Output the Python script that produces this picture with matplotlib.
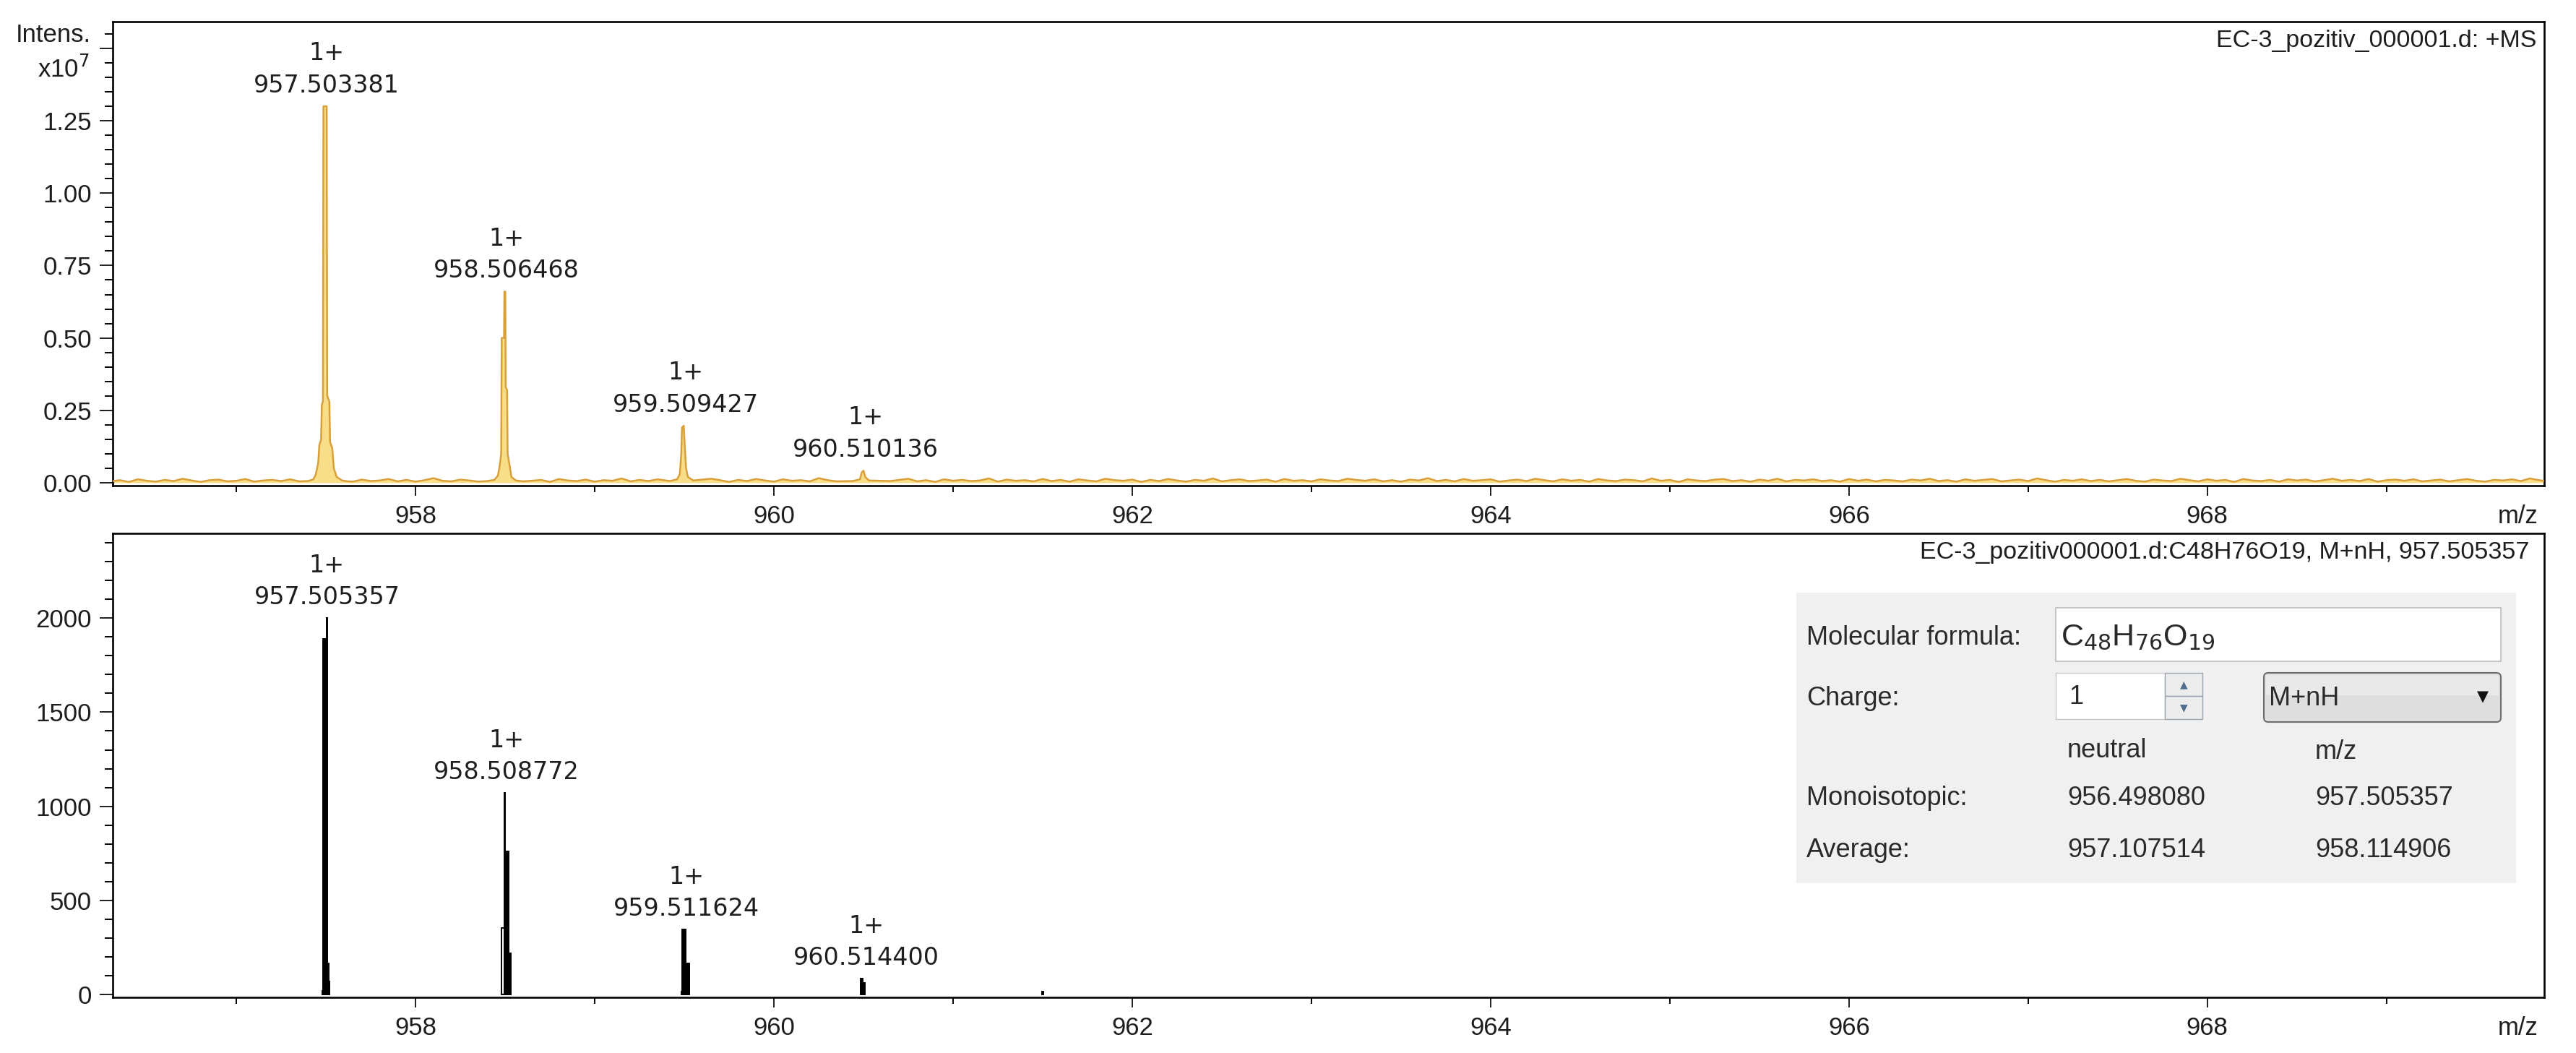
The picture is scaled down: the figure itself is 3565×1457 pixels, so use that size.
import numpy as np
import matplotlib
matplotlib.use("Agg")
import matplotlib.pyplot as plt
from matplotlib.patches import Rectangle, FancyBboxPatch
from matplotlib.ticker import MultipleLocator, FuncFormatter
from matplotlib.transforms import Affine2D

# ---------------- data ----------------
# Top panel: measured spectrum (+MS), intensity in units of 1e7
noise_start = 956.3
noise_step = 0.05
noise_int_e3 = [5, 9, 3, 12, 7, 4, 10, 6, 14, 8, 3, 9, 11, 5, 7, 13, 4, 8, 10, 6,
                12, 5, 8, 3, 15, 7, 9, 4, 11, 6, 8, 13, 5, 10, 4, 9, 16, 7, 5, 11,
                8, 4, 12, 6, 9, 14, 5, 7, 10, 3, 13, 8, 6, 11, 4, 9, 7, 15, 5, 10,
                6, 12, 4, 8, 11, 7, 5, 14, 9, 3, 10, 6, 13, 8, 4, 12, 7, 9, 5, 16,
                9, 5, 11, 7, 4, 13, 8, 6, 10, 14, 5, 9, 3, 12, 7, 10, 6, 8, 15, 4,
                11, 7, 9, 5, 13, 6, 10, 4, 12, 8, 5, 14, 9, 7, 11, 3, 10, 6, 13, 8,
                4, 10, 7, 15, 5, 9, 12, 6, 8, 11, 4, 13, 7, 9, 5, 12, 8, 6, 14, 10,
                7, 12, 5, 9, 4, 11, 8, 16, 6, 10, 5, 13, 7, 9, 12, 4, 8, 11, 6, 14,
                9, 5, 12, 7, 10, 4, 13, 8, 6, 11, 9, 5, 15, 7, 10, 3, 12, 8, 6, 11,
                13, 6, 9, 4, 11, 7, 14, 5, 10, 8, 12, 6, 9, 4, 13, 7, 11, 5, 10, 8,
                5, 11, 8, 14, 6, 9, 4, 12, 7, 10, 13, 5, 8, 11, 6, 15, 9, 4, 10, 7,
                12, 6, 10, 5, 9, 13, 7, 4, 11, 8, 6, 14, 9, 5, 12, 7, 10, 3, 13, 8,
                6, 10, 4, 12, 8, 11, 5, 9, 14, 7, 10, 6, 13, 4, 9, 11, 7, 12, 5, 8,
                11, 5, 9, 13, 7, 4, 10, 8, 12, 6, 15, 9, 5, 11, 7, 10, 4, 13, 8, 6]

top_peak_mz = [957.40, 957.43, 957.444, 957.457, 957.463, 957.473, 957.477, 957.483,
               957.486, 957.504, 957.507, 957.519, 957.523, 957.535, 957.544, 957.56,
               957.59, 957.62,
               958.40, 958.44, 958.46, 958.47, 958.478, 958.481, 958.494, 958.496,
               958.501, 958.503, 958.511, 958.514, 958.525, 958.535, 958.56, 958.60,
               959.42, 959.46, 959.475, 959.483, 959.487, 959.497, 959.503, 959.51,
               959.52, 959.55,
               960.44, 960.48, 960.49, 960.50, 960.51, 960.53]
top_peak_int = [0.006, 0.012, 0.03, 0.07, 0.13, 0.15, 0.27, 0.28,
                1.30, 1.30, 0.30, 0.28, 0.14, 0.12, 0.05, 0.02,
                0.008, 0.005,
                0.006, 0.010, 0.025, 0.06, 0.10, 0.50, 0.50, 0.66,
                0.66, 0.33, 0.32, 0.10, 0.06, 0.02, 0.008, 0.005,
                0.006, 0.012, 0.03, 0.10, 0.19, 0.197, 0.12, 0.05,
                0.02, 0.008,
                0.006, 0.012, 0.035, 0.042, 0.02, 0.008]
top_peak_centers = [957.50, 958.50, 959.50, 960.50]

top_label_mz = [957.503381, 958.506468, 959.509427, 960.510136]
top_label_int = [1.30, 0.66, 0.197, 0.042]
top_label_charge = ["1+", "1+", "1+", "1+"]

# Bottom panel: simulated isotope pattern (bins: left m/z, right m/z, intensity)
bot_left = [957.478, 957.484, 957.503, 957.506, 957.514,
            958.478, 958.498, 958.497, 958.515,
            959.482, 959.488, 959.508,
            960.485, 960.497,
            961.495]
bot_right = [957.484, 957.503, 957.506, 957.514, 957.519,
             958.498, 958.518, 958.500, 958.530,
             959.488, 959.508, 959.527,
             960.497, 960.508,
             961.505]
bot_int = [20, 1890, 2000, 166, 70,
           355, 760, 1070, 220,
           15, 345, 166,
           83, 60,
           15]
bot_filled = [True, True, True, False, True,
              False, True, True, True,
              True, True, True,
              True, True,
              True]

bot_label_mz = [957.505357, 958.508772, 959.511624, 960.514400]
bot_label_int = [2000, 1070, 345, 83]
bot_label_charge = ["1+", "1+", "1+", "1+"]

top_title = "EC-3_pozitiv_000001.d: +MS"
bot_title = "EC-3_pozitiv000001.d:C48H76O19, M+nH, 957.505357"

formula_label = "Molecular formula:"
formula_text = r"C$_{48}$H$_{76}$O$_{19}$"
charge_value = "1"
adduct = "M+nH"
col_headers = ["neutral", "m/z"]
row_names = ["Monoisotopic:", "Average:"]
row_neutral = ["956.498080", "957.107514"]
row_mz = ["957.505357", "958.114906"]

# ---------------- figure ----------------
plt.rcParams["font.family"] = ["Liberation Sans", "DejaVu Sans"]
W, H = 3566, 1457
fig = plt.figure(figsize=(W / 100, H / 100), dpi=100)
fig.patch.set_facecolor("white")
pix = Affine2D().scale(1.0 / W, -1.0 / H).translate(0, 1) + fig.transFigure

L, R = 156, 3521
ax1 = fig.add_axes([L / W, 1 - 672 / H, (R - L) / W, (672 - 30) / H])
ax2 = fig.add_axes([L / W, 1 - 1380 / H, (R - L) / W, (1380 - 738) / H])

TXT = "#1e1e1e"

# ----- top spectrum -----
noise_mz = noise_start + noise_step * np.arange(len(noise_int_e3))
noise_int = np.array(noise_int_e3) * 1e-3
keep = np.ones(len(noise_mz), bool)
for c in top_peak_centers:
    keep &= np.abs(noise_mz - c) > 0.13
mz_all = np.concatenate([noise_mz[keep], top_peak_mz])
in_all = np.concatenate([noise_int[keep], top_peak_int])
order = np.argsort(mz_all)
mz_all, in_all = mz_all[order], in_all[order]
ax1.fill_between(mz_all, in_all, 0, color="#F9DE8A", lw=0, zorder=2)
ax1.plot(mz_all, in_all, color="#D9A03A", lw=1.8, zorder=3)

for mz, it, ch in zip(top_label_mz, top_label_int, top_label_charge):
    ax1.annotate(f"{ch}\n{mz:.6f}", xy=(mz, it), xytext=(0, 12),
                 textcoords="offset pixels", ha="center", va="bottom",
                 fontsize=24, family="DejaVu Sans", color=TXT, linespacing=1.45)

# ----- bottom spectrum -----
for l, r, h, f in zip(bot_left, bot_right, bot_int, bot_filled):
    ax2.bar(l, h, width=r - l, align="edge", facecolor="black" if f else "white",
            edgecolor="black", linewidth=1.4, zorder=3)

for mz, it, ch in zip(bot_label_mz, bot_label_int, bot_label_charge):
    ax2.annotate(f"{ch}\n{mz:.6f}", xy=(mz, it), xytext=(0, 12),
                 textcoords="offset pixels", ha="center", va="bottom",
                 fontsize=24, family="DejaVu Sans", color=TXT, linespacing=1.45)

# ----- axes styling -----
for ax in (ax1, ax2):
    ax.set_xlim(956.31, 969.88)
    ax.xaxis.set_major_locator(MultipleLocator(2))
    ax.xaxis.set_minor_locator(MultipleLocator(1))
    ax.xaxis.set_major_formatter(FuncFormatter(lambda v, p: f"{v:.0f}"))
    ax.tick_params(axis="x", which="major", length=10, width=1.4, pad=9,
                   labelsize=25, colors=TXT)
    ax.tick_params(axis="x", which="minor", length=6.5, width=1.4)
    ax.tick_params(axis="y", which="major", length=13, width=1.4, pad=8,
                   labelsize=25, colors=TXT)
    ax.tick_params(axis="y", which="minor", length=8, width=1.4)
    for s in ax.spines.values():
        s.set_linewidth(1.9)
        s.set_color("black")
    ax.annotate("m/z", xy=(0.9893, 0), xycoords="axes fraction", xytext=(0, -43),
                textcoords="offset pixels", ha="center", va="center",
                fontsize=25, color=TXT)

ax1.set_ylim(-0.01, 1.592)
ax1.yaxis.set_major_locator(MultipleLocator(0.25))
ax1.yaxis.set_minor_locator(MultipleLocator(0.05))
ax1.yaxis.set_major_formatter(FuncFormatter(lambda v, p: f"{v:.2f}" if v < 1.3 else ""))

ax2.set_ylim(-15, 2450)
ax2.yaxis.set_major_locator(MultipleLocator(500))
ax2.yaxis.set_minor_locator(MultipleLocator(100))
ax2.yaxis.set_major_formatter(FuncFormatter(lambda v, p: f"{v:.0f}" if v < 2200 else ""))

# titles inside axes
fig.text(3510, 56, top_title, transform=pix, ha="right", va="center",
         fontsize=24.5, color=TXT)
fig.text(3500, 764, bot_title, transform=pix, ha="right", va="center",
         fontsize=24.5, color=TXT)

# y-axis label of top panel
fig.text(126, 49, "Intens.", transform=pix, ha="right", va="center", fontsize=25, color=TXT)
fig.text(124, 96, r"x10$^{7}$", transform=pix, ha="right", va="center", fontsize=25, color=TXT)

# ----- inset panel -----
def rect(x0, y0, x1, y1, **kw):
    p = Rectangle((x0, y0), x1 - x0, y1 - y0, transform=pix, **kw)
    fig.add_artist(p)
    return p

rect(2486, 820, 3482, 1222, facecolor="#F0F0F0", edgecolor="none", zorder=5)
rect(2845, 841, 3461, 915, facecolor="white", edgecolor="#BDBDBD", lw=1.2, zorder=6)
rect(2845, 931, 2996, 995, facecolor="white", edgecolor="#C8C8C8", lw=1.0, zorder=6)
rect(2996, 931, 3048, 963, facecolor="#ECECEC", edgecolor="#9AA4AE", lw=1.0, zorder=6)
rect(2996, 963, 3048, 995, facecolor="#ECECEC", edgecolor="#9AA4AE", lw=1.0, zorder=6)
dd = FancyBboxPatch((3133, 931), 3461 - 3133, 999 - 931,
                    boxstyle="round,pad=0,rounding_size=6", transform=pix,
                    facecolor="#DEDEDE", edgecolor="#6E6E6E", lw=1.5, zorder=6)
fig.add_artist(dd)
rect(3136, 934, 3458, 962, facecolor="#E9E9E9", edgecolor="none", zorder=6)

IT = "#2a2a2a"
kw = dict(transform=pix, va="center", fontsize=26, color=IT, zorder=7)
fig.text(2500, 882, formula_label, ha="left", **kw)
fig.text(2852, 882, formula_text, ha="left", transform=pix, va="center",
         fontsize=31, color=IT, zorder=7)
fig.text(2500, 966, "Charge:", ha="left", **kw)
fig.text(2863, 964, charge_value, ha="left", **kw)
fig.text(3022, 947, "\u25B2", ha="center", transform=pix, va="center", fontsize=10,
         color="#4F6D8C", family="DejaVu Sans", zorder=7)
fig.text(3022, 979, "\u25BC", ha="center", transform=pix, va="center", fontsize=10,
         color="#4F6D8C", family="DejaVu Sans", zorder=7)
fig.text(3140, 966, adduct, ha="left", **kw)
fig.text(3436, 964, "\u25BC", ha="center", transform=pix, va="center", fontsize=15,
         color="#111111", family="DejaVu Sans", zorder=7)
fig.text(2861, 1038, col_headers[0], ha="left", **kw)
fig.text(3204, 1041, col_headers[1], ha="left", **kw)
for i, (nm, nv, mv) in enumerate(zip(row_names, row_neutral, row_mz)):
    y = 1104 + i * 73
    fig.text(2500, y, nm, ha="left", **kw)
    fig.text(2861, y, nv, ha="left", **kw)
    fig.text(3204, y, mv, ha="left", **kw)

fig.savefig("out.png", dpi=100, facecolor="white")
